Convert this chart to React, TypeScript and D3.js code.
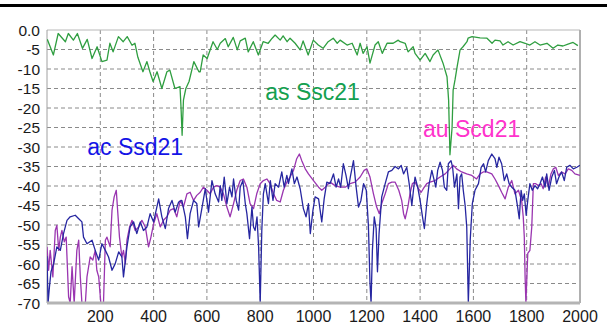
import React from 'react'
import * as d3 from 'd3'

// Ssc21 (green) as [frequency, dB]
const sscData: [number, number][] = [
  [1, -2.4], [24, -6.4], [42, -0.9], [69, -3.0], [80, -0.9], [99, -2.6], [114, -0.9], [133, -4.7],
  [151, -2.4], [169, -7.3], [188, -4.3], [206, -8.1], [225, -7.7], [236, -3.4], [248, -5.6], [268, -1.7],
  [286, -3.0], [301, -1.7], [319, -3.9], [330, -3.4], [341, -7.0], [360, -10.7], [375, -8.1], [386, -10.7],
  [398, -13.2], [413, -10.7], [431, -15], [450, -10.7], [461, -10.3], [480, -15], [499, -14.5], [503, -20],
  [507, -27], [512, -18], [521, -15], [533, -13.2], [551, -8.1], [570, -10.7], [575, -10.7], [586, -6.4],
  [601, -7.3], [623, -3.0], [639, -5.0], [650, -3.4], [669, -2.2], [680, -4.3], [699, -1.9], [714, -5.1],
  [725, -2.8], [744, -2.1], [755, -5.6], [774, -3.0], [793, -6.4], [811, -3.0], [830, -3.4], [845, -2.1],
  [856, -1.3], [875, -2.6], [886, -1.5], [901, -3.0], [912, -2.1], [931, -3.4], [950, -5.1], [961, -2.8],
  [980, -6.4], [999, -2.6], [1018, -3.85], [1036, -4.7], [1055, -3.0], [1074, -2.1], [1089, -3.4], [1100, -2.6],
  [1126, -3.85], [1145, -3.4], [1164, -6.4], [1175, -3.4], [1186, -6.0], [1201, -4.3], [1212, -8.5], [1231, -3.85],
  [1243, -3.0], [1258, -6.0], [1276, -3.4], [1299, -3.4], [1318, -2.6], [1325, -3.0], [1344, -3.4], [1355, -5.6],
  [1374, -4.3], [1381, -6.0], [1400, -7.7], [1419, -6.0], [1437, -8.1], [1449, -6.4], [1467, -5.1], [1486, -8.5],
  [1501, -12], [1507, -18], [1512, -32], [1520, -25], [1524, -15.4], [1531, -12.8], [1539, -9.4], [1550, -5.1],
  [1561, -4.3], [1576, -3.0], [1580, -2.1], [1595, -1.7], [1625, -2.0], [1651, -2.1], [1670, -3.4], [1681, -2.6],
  [1700, -2.8], [1711, -3.85], [1730, -3.0], [1749, -3.85], [1775, -3.0], [1794, -3.4], [1812, -3.85], [1831, -3.0],
  [1850, -3.85], [1876, -3.4], [1899, -4.7], [1917, -3.85], [1936, -4.1], [1955, -3.6], [1974, -3.2], [1992, -4.0],
]

// Ssd21 (blue)
const ssdData: [number, number][] = [
  [0, -58], [4, -70], [9, -66], [15, -62], [25, -59.9], [37, -55.6], [50, -56.5], [62, -52.2], [75, -48.8],
  [87, -47.9], [106, -47.5], [119, -48.4], [131, -49.2], [137, -53.1], [150, -54.8], [169, -53.9], [181, -56.5],
  [194, -59], [206, -54.8], [219, -56.5], [231, -58.2], [244, -61.6], [256, -59.9], [269, -56.9], [281, -58.2],
  [287, -63.3], [300, -55.6], [312, -50.5], [325, -49.2], [337, -52.2], [350, -49.2], [362, -51.4], [375, -50.5],
  [387, -47.1], [400, -49.2], [419, -43.3], [431, -47.9], [444, -50.9], [456, -45.8], [469, -43.7], [481, -46.7],
  [494, -44.1], [506, -43.7], [519, -47.9], [527, -53.5], [537, -47.1], [550, -43.7], [562, -44.5], [569, -50.5],
  [581, -45.8], [594, -40.7], [606, -46.7], [619, -38.6], [631, -42], [644, -44.1], [650, -39.9], [656, -43.7],
  [665, -37.7], [675, -44.5], [685, -40.3], [694, -42.8], [700, -38.2], [710, -43.7], [719, -46.2], [725, -40.3],
  [735, -38.6], [744, -44.5], [750, -47.1], [760, -53.5], [769, -45.4], [775, -50.5], [781, -51.4], [788, -47.9],
  [794, -55.6], [800, -70], [806, -51.4], [812, -42], [819, -39.4], [825, -42], [831, -44.5], [838, -38.6],
  [848, -43.7], [856, -39.4], [869, -40.3], [881, -36.4], [890, -40.3], [900, -37.3], [906, -39.4], [919, -35.6],
  [928, -39.4], [938, -37.7], [950, -40.7], [962, -45.8], [972, -47.9], [981, -44.5], [988, -52.2], [998, -46.2],
  [1006, -42.8], [1019, -43.3], [1031, -49.2], [1040, -43.3], [1050, -39], [1062, -39.4], [1075, -36.9], [1085, -40.3],
  [1094, -38.2], [1102, -40.3], [1112, -34.3], [1122, -37.3], [1131, -40.7], [1138, -37.7], [1150, -33.5], [1160, -40.3],
  [1169, -45.4], [1178, -43.7], [1188, -39.4], [1198, -41.1], [1206, -50.1], [1212, -65], [1216, -70], [1221, -56.5],
  [1228, -47.9], [1235, -50.9], [1240, -62], [1246, -52.2], [1256, -42.8], [1269, -39.4], [1281, -36.4], [1294, -36],
  [1306, -35], [1319, -35.6], [1329, -34.7], [1338, -36.9], [1350, -35.2], [1359, -39.4], [1369, -45], [1375, -41.1],
  [1381, -37.7], [1391, -40.3], [1400, -43.7], [1409, -47.9], [1416, -50.9], [1425, -44.5], [1434, -39.4], [1444, -36],
  [1450, -37.7], [1459, -40.3], [1466, -36], [1475, -33.9], [1484, -36], [1491, -40.3], [1500, -41.1], [1506, -34.3],
  [1516, -33.5], [1522, -35.2], [1529, -40.3], [1538, -36.9], [1544, -45.8], [1550, -37.7], [1556, -36.9], [1562, -41.1],
  [1569, -45], [1575, -50.5], [1581, -70], [1588, -53.9], [1596, -44.5], [1606, -41.1], [1619, -39.4], [1629, -35.2],
  [1638, -34.3], [1646, -36.4], [1656, -33.5], [1669, -31.8], [1681, -33], [1688, -35.2], [1696, -32.6], [1706, -34.3],
  [1716, -38.6], [1725, -36.9], [1734, -39.4], [1744, -40.3], [1756, -41.1], [1766, -45.4], [1772, -48.4], [1779, -41.1],
  [1785, -43.7], [1791, -42], [1798, -47.5], [1804, -43.7], [1812, -39.4], [1821, -41.1], [1831, -39.9], [1841, -40.7],
  [1850, -39.4], [1859, -37.7], [1869, -40.3], [1875, -36.9], [1884, -41.1], [1894, -37.7], [1904, -36], [1912, -39.4],
  [1921, -37.7], [1931, -36.4], [1941, -38.6], [1950, -35.2], [1962, -34.7], [1975, -35.6], [1988, -35.2], [2000, -34.7],
]

// Scd21 (purple)
const scdData: [number, number][] = [
  [0, -55.6], [6, -61.6], [12, -56.5], [22, -63.3], [31, -51.4], [37, -50.1], [44, -56.5], [50, -53.1], [56, -51.4],
  [65, -54.3], [72, -53.1], [81, -68.4], [87, -70], [94, -60.7], [102, -70], [112, -56.5], [119, -53.9], [125, -63.3],
  [131, -70], [144, -70], [150, -63.3], [162, -58.2], [172, -59], [181, -56.5], [187, -61.6], [194, -63.3], [202, -70],
  [212, -70], [219, -53.9], [225, -53.1], [237, -55.6], [244, -46.2], [252, -42.8], [260, -41.1], [265, -46.2],
  [272, -53.1], [281, -58.2], [287, -56.5], [294, -59.9], [300, -53.9], [310, -50.5], [319, -48.8], [331, -51.4],
  [344, -50.5], [356, -48.8], [369, -50.5], [381, -55.6], [390, -53.1], [400, -49.7], [412, -47.1], [425, -50.5],
  [437, -48.8], [450, -47.9], [462, -46.2], [475, -45.8], [487, -47.9], [500, -43.7], [512, -45.4], [525, -42],
  [537, -41.6], [550, -43.7], [562, -42.4], [575, -41.6], [587, -40.3], [600, -41.1], [612, -42], [625, -40.3],
  [637, -39.9], [650, -40.3], [662, -42], [675, -45.4], [687, -47.9], [700, -44.5], [712, -41.1], [725, -38.6],
  [737, -38.2], [750, -40.3], [762, -44.5], [775, -45.8], [787, -42], [800, -39.4], [812, -38.6], [825, -38.2],
  [837, -39.4], [850, -42], [862, -43.7], [875, -44.1], [887, -41.1], [900, -39], [912, -37.7], [925, -36],
  [937, -33], [947, -31.8], [956, -33.5], [969, -35.6], [981, -36.9], [1000, -38.6], [1019, -40.3], [1031, -41.1],
  [1044, -40.3], [1062, -39], [1081, -39.9], [1100, -40.3], [1119, -40.3], [1137, -39.4], [1156, -39], [1175, -37.7],
  [1190, -36], [1200, -35.6], [1212, -37.7], [1225, -42], [1237, -45.4], [1247, -47.1], [1256, -44.5], [1269, -42],
  [1281, -39.4], [1294, -39], [1306, -39], [1320, -41.1], [1331, -43.7], [1338, -47.1], [1344, -48.4], [1354, -45.4],
  [1362, -42], [1371, -39.4], [1381, -39], [1394, -40.7], [1404, -41.6], [1412, -40.7], [1425, -39.4], [1437, -39],
  [1456, -38.6], [1475, -37.7], [1494, -36.9], [1512, -35.6], [1525, -34.7], [1537, -35.6], [1556, -36.4], [1575, -36.9],
  [1594, -37.3], [1612, -38.2], [1625, -36.9], [1637, -36.4], [1650, -36.4], [1669, -36.9], [1681, -38.2], [1694, -39.9],
  [1706, -41.6], [1719, -43.3], [1731, -40.3], [1744, -38.6], [1756, -42], [1769, -41.1], [1781, -43.7], [1787, -47.9],
  [1791, -53.1], [1794, -63.3], [1797, -70], [1804, -57.3], [1812, -56.5], [1819, -50.5], [1825, -39.4], [1834, -39.4],
  [1844, -39.9], [1854, -39.4], [1862, -40.7], [1871, -37.7], [1881, -40.3], [1891, -36.9], [1900, -35.6], [1909, -35.2],
  [1919, -37.3], [1931, -36.4], [1944, -36.9], [1956, -35.6], [1969, -36], [1981, -36.9], [2000, -37.3],
]

const xTicks = [200, 400, 600, 800, 1000, 1200, 1400, 1600, 1800, 2000]
const yTicks = [0, -5, -10, -15, -20, -25, -30, -35, -40, -45, -50, -55, -60, -65, -70]

const labels = [
  { text: 'ac Ssd21', f: 151, v: -32.1, color: '#1414e6' },
  { text: 'as Ssc21', f: 819, v: -17.9, color: '#14a050' },
  { text: 'au Scd21', f: 1411, v: -27.4, color: '#ff33cc' },
]

const W = 607
const H = 332
const margin = { top: 30, right: 27, bottom: 29, left: 47 }

export default function App() {
  const x = d3.scaleLinear().domain([0, 2000]).range([margin.left, W - margin.right])
  const y = d3.scaleLinear().domain([-70, 0]).range([H - margin.bottom, margin.top])

  const line = d3.line<[number, number]>()
    .x(d => x(d[0]))
    .y(d => y(d[1]))

  const font = 'Arial, "Liberation Sans", sans-serif'
  const [x0, x1] = x.range()
  const [yb, yt] = y.range()

  return (
    <div style={{ position: 'absolute', left: 0, top: 0 }}>
      <svg width={W} height={H} style={{ display: 'block', background: '#fff' }}>
        <defs>
          <clipPath id="plot">
            <rect x={x0} y={yt} width={x1 - x0} height={yb - yt} />
          </clipPath>
        </defs>

        <rect x={0} y={4} width={W} height={3} fill="#000" />

        {/* grid */}
        {yTicks.filter(t => t !== 0 && t !== -70).map(t => (
          <line key={'gy' + t} x1={x0} x2={x1} y1={y(t)} y2={y(t)}
            stroke="#8a8a8a" strokeWidth={1} strokeDasharray="4,3" />
        ))}
        {xTicks.filter(t => t !== 2000).map(t => (
          <line key={'gx' + t} x1={x(t)} x2={x(t)} y1={yt} y2={yb}
            stroke="#8a8a8a" strokeWidth={1} strokeDasharray="4,3" />
        ))}

        {/* frame */}
        <line x1={x0} x2={x1} y1={yt} y2={yt} stroke="#b8b8b8" strokeWidth={1} />
        <line x1={x0} x2={x0} y1={yt} y2={yb} stroke="#a0a0a0" strokeWidth={1} />
        <line x1={x1} x2={x1} y1={yt} y2={yb} stroke="#b0b0b0" strokeWidth={2} />

        <g clipPath="url(#plot)" fill="none" strokeLinejoin="round">
          <path d={line(sscData) || ''} stroke="#2f9e40" strokeWidth={1.3} />
          <path d={line(scdData) || ''} stroke="#9a35b0" strokeWidth={1.3} />
          <path d={line(ssdData) || ''} stroke="#2626a0" strokeWidth={1.3} />
        </g>

        <line x1={x0} x2={x1} y1={yb} y2={yb} stroke="#b4b4b4" strokeWidth={3} />

        {/* tick labels */}
        {yTicks.map(t => (
          <text key={'ty' + t} x={40} y={y(t)} dy="0.36em" textAnchor="end"
            fontFamily={font} fontSize={15.5} fill="#1a1a1a">
            {t === 0 ? '0.0' : String(t)}
          </text>
        ))}
        {xTicks.map(t => (
          <text key={'tx' + t} x={x(t)} y={322} textAnchor="middle"
            fontFamily={font} fontSize={16} fill="#1a1a1a">
            {t}
          </text>
        ))}

        {labels.map(l => (
          <text key={l.text} x={x(l.f)} y={y(l.v)} fontFamily={font} fontSize={23} fill={l.color}>
            {l.text}
          </text>
        ))}
      </svg>
    </div>
  )
}
